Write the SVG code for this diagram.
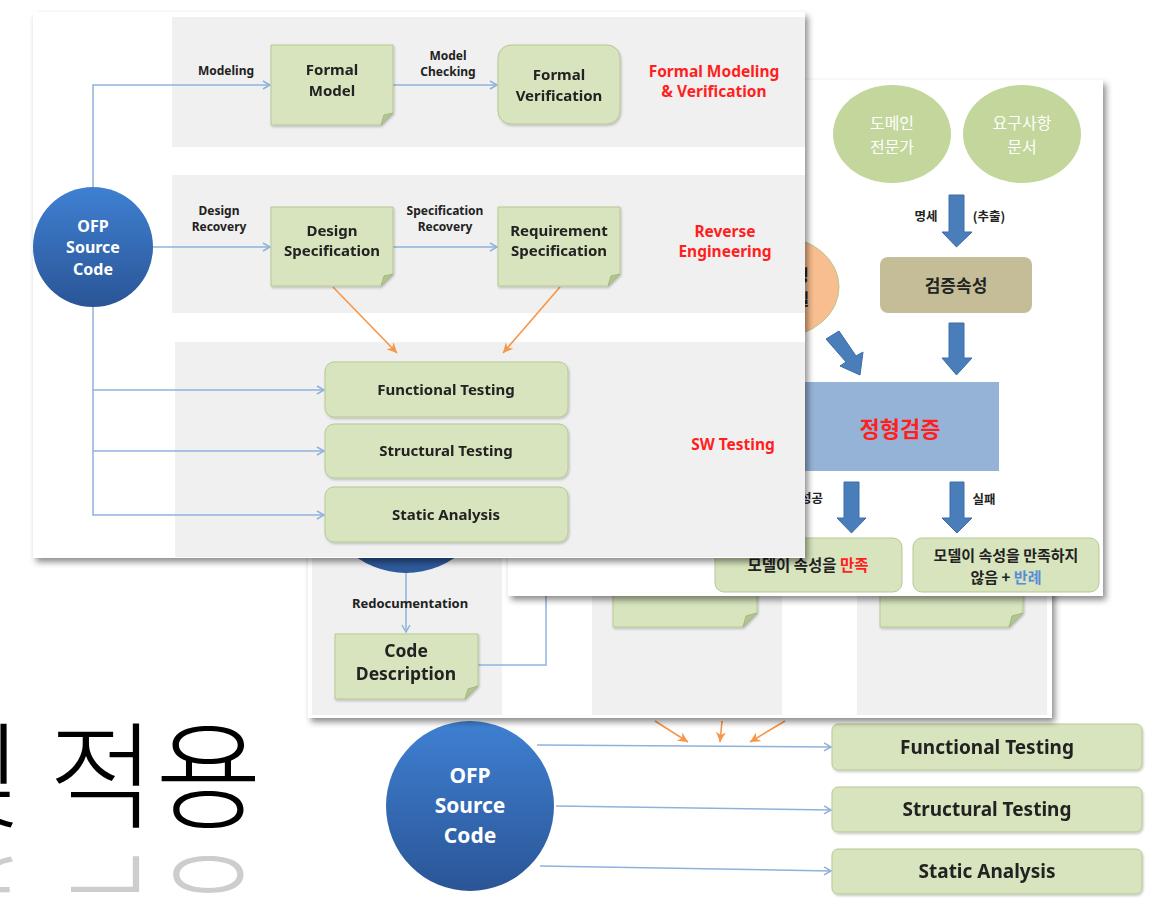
<svg xmlns="http://www.w3.org/2000/svg" width="1174" height="898" viewBox="0 0 1174 898">
<defs>
<style>
.t{font-family:"Noto Sans","Noto Sans CJK KR",sans-serif;font-weight:bold;fill:#222;text-anchor:middle}
.k{font-family:"Noto Sans CJK KR","Noto Sans",sans-serif;font-weight:bold;fill:#222;text-anchor:middle}
.kn{font-family:"Noto Sans CJK KR","Noto Sans",sans-serif;font-weight:normal;fill:#fff;text-anchor:middle}
.red{fill:#ff1f1f}
.wh{fill:#fff}
.lbl{font-size:12px}
.note{fill:#d7e4bd;stroke:#b5c994;stroke-width:1}
.fold{fill:#b2c58d;stroke:#a4b87f;stroke-width:1}
.band{fill:#f0f0f0}
.blue{fill:none;stroke:#8fb2dd;stroke-width:1.5}
.orange{fill:none;stroke:#f79646;stroke-width:1.6}
.barrow{fill:#4a7ebb;stroke:#3d6ca5;stroke-width:1}
.slide{fill:#fff}
</style>
<filter id="sh" x="-5%" y="-5%" width="112%" height="115%">
<feDropShadow dx="3" dy="4" stdDeviation="3" flood-color="#000" flood-opacity="0.45"/>
</filter>
<filter id="bs" x="-5%" y="-10%" width="115%" height="130%">
<feDropShadow dx="1" dy="1.5" stdDeviation="1" flood-color="#000" flood-opacity="0.22"/>
</filter>
<linearGradient id="cg" x1="0" y1="0" x2="0" y2="1">
<stop offset="0" stop-color="#3f80d2"/>
<stop offset="1" stop-color="#2a5596"/>
</linearGradient>
<linearGradient id="rg" x1="0" y1="855" x2="0" y2="898" gradientUnits="userSpaceOnUse">
<stop offset="0" stop-color="#999" stop-opacity="0.7"/>
<stop offset="1" stop-color="#ddd" stop-opacity="0.15"/>
</linearGradient>
<marker id="ab" markerWidth="10" markerHeight="10" refX="8" refY="5" orient="auto" markerUnits="userSpaceOnUse">
<path d="M1,1 L8,5 L1,9" fill="none" stroke="#8fb2dd" stroke-width="1.5"/>
</marker>
<marker id="ao" markerWidth="12" markerHeight="12" refX="10" refY="6" orient="auto" markerUnits="userSpaceOnUse">
<path d="M0,1 L10,6 L0,11 L3,6 Z" fill="#f79646"/>
</marker>
</defs>

<rect width="1174" height="898" fill="#fff"/>

<!-- background title with reflection -->
<g id="title">
<text x="262" y="819" font-family="'Noto Sans CJK KR',sans-serif" font-weight="300" font-size="116" text-anchor="end" fill="#000">및 적용</text>
<text x="262" y="819" transform="translate(0 1684) scale(1 -1)" font-family="'Noto Sans CJK KR',sans-serif" font-weight="300" font-size="116" text-anchor="end" fill="url(#rg)" opacity="0.7" aria-hidden="true">및 적용</text>
</g>

<!-- bottom slide -->
<g id="bottom-slide">
<g id="connectors-bottom">
<path class="blue" d="M537,745 L831,747" marker-end="url(#ab)"/>
<path class="blue" d="M556,806 L831,810" marker-end="url(#ab)"/>
<path class="blue" d="M540,866 L831,871" marker-end="url(#ab)"/>
<path class="orange" d="M655,721 L688,742" marker-end="url(#ao)"/>
<path class="orange" d="M722,721 L720,742" marker-end="url(#ao)"/>
<path class="orange" d="M785,721 L750,742" marker-end="url(#ao)"/>
</g>
<g id="b-ofp">
<ellipse cx="470" cy="806" rx="84" ry="85" fill="url(#cg)"/>
<text class="t wh" font-size="21" x="470" y="783">OFP</text>
<text class="t wh" font-size="21" x="470" y="813">Source</text>
<text class="t wh" font-size="21" x="470" y="843">Code</text>
</g>
<g id="b-func" filter="url(#bs)">
<rect class="note" x="832" y="724" width="310" height="46" rx="6"/>
<text class="t" font-size="19" x="987" y="754">Functional Testing</text>
</g>
<g id="b-struct" filter="url(#bs)">
<rect class="note" x="832" y="787" width="310" height="45" rx="6"/>
<text class="t" font-size="19" x="987" y="816">Structural Testing</text>
</g>
<g id="b-static" filter="url(#bs)">
<rect class="note" x="832" y="849" width="310" height="45" rx="6"/>
<text class="t" font-size="19" x="987" y="878">Static Analysis</text>
</g>
</g>

<!-- middle slide -->
<g id="middle-slide">
<rect class="slide" x="308" y="300" width="744" height="418" filter="url(#sh)"/>
<rect class="band" x="312" y="300" width="190" height="415"/>
<rect class="band" x="592" y="300" width="190" height="415"/>
<rect class="band" x="857" y="300" width="190" height="415"/>
<g id="m-circle">
<circle cx="406" cy="488" r="85" fill="#2d5a9b"/>
</g>
<g id="connectors-middle">
<path class="blue" d="M406,573 L406,632" marker-end="url(#ab)"/>
<path class="blue" d="M478,665 H546 V590"/>
</g>
<text class="t" style="font-size:13px" x="410" y="608">Redocumentation</text>
<g id="m-code" filter="url(#bs)">
<path class="note" d="M335,634 H478 V686 L465,699 H335 Z"/>
<path class="fold" d="M465,699 L468,689 L478,686 Z"/>
<text class="t" font-size="17.5" x="406" y="657">Code</text>
<text class="t" font-size="17.5" x="406" y="680">Description</text>
</g>
<g id="m-note1" filter="url(#bs)">
<path class="note" d="M613,560 H757 V613 L743,627 H613 Z"/>
<path class="fold" d="M743,627 L746,616 L757,613 Z"/>
</g>
<g id="m-note2" filter="url(#bs)">
<path class="note" d="M880,560 H1023 V613 L1009,627 H880 Z"/>
<path class="fold" d="M1009,627 L1012,616 L1023,613 Z"/>
</g>
</g>

<!-- right slide -->
<g id="right-slide">
<rect class="slide" x="508" y="80" width="595" height="516" filter="url(#sh)"/>
<g id="r-domain">
<ellipse cx="892" cy="134" rx="59" ry="49" fill="#c3d69b"/>
<text class="kn" font-size="16" x="892" y="128.5">도메인</text>
<text class="kn" font-size="16" x="892" y="152.5">전문가</text>
</g>
<g id="r-req">
<ellipse cx="1022" cy="134" rx="59" ry="49" fill="#c3d69b"/>
<text class="kn" font-size="16" x="1022" y="128.5">요구사항</text>
<text class="kn" font-size="16" x="1022" y="152.5">문서</text>
</g>
<g id="r-model">
<ellipse cx="780" cy="287" rx="59" ry="50" fill="#f9be8f" stroke="#b5c98f" stroke-width="1"/>
<text class="k" font-size="16" x="794" y="280.5">정형</text>
<text class="k" font-size="16" x="794" y="304.5">모델</text>
</g>
<g id="r-prop">
<rect x="880" y="257" width="152" height="56" rx="8" fill="#c4bd97"/>
<text class="k" font-size="17" x="956" y="292">검증속성</text>
</g>
<g id="r-verify">
<rect x="740" y="382" width="259" height="89" fill="#95b3d7"/>
<text class="k red" font-size="22" x="900" y="437">정형검증</text>
</g>
<g id="r-ok">
<rect x="715" y="538" width="187" height="54" rx="9" fill="#d7e4bd" stroke="#b5c994"/>
<text class="k" font-size="15.5" x="808" y="571">모델이 속성을 <tspan class="red">만족</tspan></text>
</g>
<g id="r-fail">
<rect x="913" y="538" width="186" height="54" rx="9" fill="#d7e4bd" stroke="#b5c994"/>
<text class="k" font-size="15" x="1006" y="561">모델이 속성을 만족하지</text>
<text class="k" font-size="15" x="1006" y="583">않음 + <tspan fill="#558ed5">반례</tspan></text>
</g>
<g id="connectors-right">
<polygon class="barrow" points="949,195 964,195 964,232 972,232 956.5,247 942,232 949,232"/>
<polygon class="barrow" points="949,323 964,323 964,358 972,358 956.5,375 942,358 949,358"/>
<polygon class="barrow" points="826,339 839,331 856,356 863,352 860,375 840,366 846,362"/>
<polygon class="barrow" points="844,482 859,482 859,518 866,518 851.5,533 837,518 844,518"/>
<polygon class="barrow" points="950,482 964,482 964,518 972,518 957,533 942,518 950,518"/>
</g>
<text class="k" font-size="12.5" x="926" y="221">명세</text>
<text class="k" font-size="12.5" x="989" y="221">(추출)</text>
<text class="k" font-size="12.5" style="text-anchor:end" x="823" y="503">성공</text>
<text class="k" font-size="12.5" x="984" y="504">실패</text>
</g>

<!-- front slide -->
<g id="front-slide">
<rect class="slide" x="33" y="12" width="772" height="546" filter="url(#sh)"/>
<rect class="band" x="172" y="17" width="633" height="130"/>
<rect class="band" x="172" y="175" width="633" height="138"/>
<rect class="band" x="175" y="342" width="630" height="215"/>
<g id="connectors">
<path class="blue" d="M93,187 V85 H270" marker-end="url(#ab)"/>
<path class="blue" d="M393,85 H497" marker-end="url(#ab)"/>
<path class="blue" d="M153,247 H270" marker-end="url(#ab)"/>
<path class="blue" d="M393,247 H497" marker-end="url(#ab)"/>
<path class="blue" d="M93,307 V515 H324" marker-end="url(#ab)"/>
<path class="blue" d="M93,390 H324" marker-end="url(#ab)"/>
<path class="blue" d="M93,451 H324" marker-end="url(#ab)"/>
<path class="orange" d="M333,287 L397,353" marker-end="url(#ao)"/>
<path class="orange" d="M560,287 L503,353" marker-end="url(#ao)"/>
</g>
<text class="t lbl" x="226" y="75">Modeling</text>
<text class="t lbl" x="448" y="60">Model</text>
<text class="t lbl" x="448" y="76">Checking</text>
<text class="t lbl" x="219" y="215">Design</text>
<text class="t lbl" x="219" y="231">Recovery</text>
<text class="t lbl" x="445" y="215">Specification</text>
<text class="t lbl" x="445" y="231">Recovery</text>
<g id="ofp">
<circle cx="93" cy="247" r="60" fill="url(#cg)"/>
<text class="t wh" font-size="16" x="93" y="232">OFP</text>
<text class="t wh" font-size="16" x="93" y="253">Source</text>
<text class="t wh" font-size="16" x="93" y="275">Code</text>
</g>
<g id="formal-model" filter="url(#bs)">
<path class="note" d="M271,45 H393 V113 L381,125 H271 Z"/>
<path class="fold" d="M381,125 L384,115 L393,113 Z"/>
<text class="t" font-size="15" x="332" y="75">Formal</text>
<text class="t" font-size="15" x="332" y="96">Model</text>
</g>
<g id="formal-verification" filter="url(#bs)">
<rect class="note" x="498" y="45" width="122" height="79" rx="13"/>
<text class="t" font-size="15" x="559" y="80">Formal</text>
<text class="t" font-size="15" x="559" y="101">Verification</text>
</g>
<g id="design-spec" filter="url(#bs)">
<path class="note" d="M271,207 H393 V274 L381,286 H271 Z"/>
<path class="fold" d="M381,286 L384,276 L393,274 Z"/>
<text class="t" font-size="15" x="332" y="236">Design</text>
<text class="t" font-size="15" x="332" y="256">Specification</text>
</g>
<g id="req-spec" filter="url(#bs)">
<path class="note" d="M498,207 H620 V274 L608,286 H498 Z"/>
<path class="fold" d="M608,286 L611,276 L620,274 Z"/>
<text class="t" font-size="15" x="559" y="236">Requirement</text>
<text class="t" font-size="15" x="559" y="256">Specification</text>
</g>
<g id="func" filter="url(#bs)">
<rect class="note" x="325" y="362" width="243" height="55" rx="9"/>
<text class="t" font-size="15" x="446" y="395">Functional Testing</text>
</g>
<g id="struct" filter="url(#bs)">
<rect class="note" x="325" y="424" width="243" height="54" rx="9"/>
<text class="t" font-size="15" x="446" y="456">Structural Testing</text>
</g>
<g id="static" filter="url(#bs)">
<rect class="note" x="325" y="487" width="243" height="55" rx="9"/>
<text class="t" font-size="15" x="446" y="520">Static Analysis</text>
</g>
<text class="t red" font-size="15.5" x="714" y="77">Formal Modeling</text>
<text class="t red" font-size="15.5" x="714" y="97">&amp; Verification</text>
<text class="t red" font-size="15.5" x="725" y="237">Reverse</text>
<text class="t red" font-size="15.5" x="725" y="257">Engineering</text>
<text class="t red" font-size="15.5" x="733" y="450">SW Testing</text>
</g>
</svg>
